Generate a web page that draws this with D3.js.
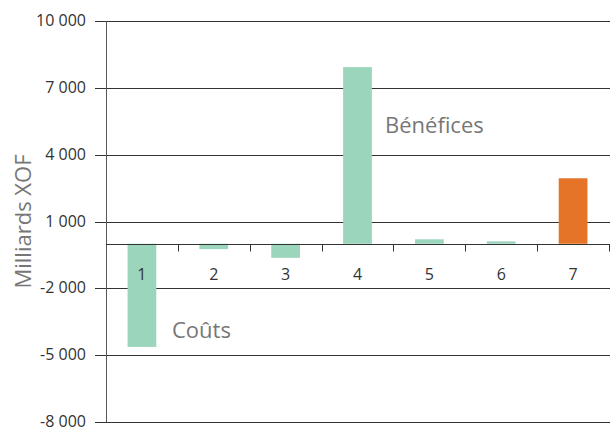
<!DOCTYPE html>
<html>
<head>
<meta charset="utf-8">
<script src="https://cdn.jsdelivr.net/npm/d3@7"></script>
<style>
body { margin: 0; background: #fff; }
text { font-family: "Open Sans", sans-serif; }
</style>
</head>
<body>
<div id="chart"></div>
<script>
// données
var categories = ["1", "2", "3", "4", "5", "6", "7"];
var values = [-4630, -240, -630, 7930, 200, 110, 2940];
var barColors = ["#9AD5BC", "#9AD5BC", "#9AD5BC", "#9AD5BC", "#9AD5BC", "#9AD5BC", "#E57428"];
var yTicks = [-8000, -5000, -2000, 1000, 4000, 7000, 10000];

var width = 614, height = 433;
var mLeft = 106, mRight = 609, mTop = 21, mBottom = 422;

var svg = d3.select("#chart").append("svg")
  .attr("width", width)
  .attr("height", height);

var x = d3.scaleBand()
  .domain(categories)
  .range([mLeft, mRight])
  .paddingInner(0.6)
  .paddingOuter(0.3);

var y = d3.scaleLinear()
  .domain([-8000, 10000])
  .range([mBottom, mTop]);

var fr = d3.formatLocale({decimal: ",", thousands: "\u00a0", grouping: [3], currency: ["", ""], minus: "-"});
var fmt = fr.format(",");

// lignes de grille
svg.selectAll(".grid").data(yTicks).enter()
  .append("line")
  .attr("x1", mLeft - 11)
  .attr("x2", mRight + 1)
  .attr("y1", function(d) { return Math.round(y(d)) + 0.5; })
  .attr("y2", function(d) { return Math.round(y(d)) + 0.5; })
  .attr("stroke", "#333")
  .attr("stroke-width", 1);

svg.selectAll(".ylab").data(yTicks).enter()
  .append("text")
  .attr("x", mLeft - 20)
  .attr("y", function(d) { return y(d) + 5; })
  .attr("text-anchor", "end")
  .attr("font-size", "16px")
  .attr("fill", "#333")
  .text(function(d) { return fmt(d); });

// barres
svg.selectAll(".bar").data(values).enter()
  .append("rect")
  .attr("x", function(d, i) { return x(categories[i]); })
  .attr("width", x.bandwidth())
  .attr("y", function(d) { return y(Math.max(0, d)); })
  .attr("height", function(d) { return Math.abs(y(d) - y(0)); })
  .attr("fill", function(d, i) { return barColors[i]; });

// axe vertical
svg.append("line")
  .attr("x1", mLeft + 0.5).attr("x2", mLeft + 0.5)
  .attr("y1", mTop).attr("y2", mBottom)
  .attr("stroke", "#555");

// axe des x sur zéro
var y0 = Math.round(y(0)) + 0.5;
svg.append("line")
  .attr("x1", mLeft).attr("x2", mRight + 1)
  .attr("y1", y0).attr("y2", y0)
  .attr("stroke", "#333");

var step = x.step();
svg.selectAll(".xtick").data(categories).enter()
  .append("line")
  .attr("x1", function(d) { return Math.round(x(d) - step * 0.3 + step) + 0.5; })
  .attr("x2", function(d) { return Math.round(x(d) - step * 0.3 + step) + 0.5; })
  .attr("y1", y0).attr("y2", y0 + 7)
  .attr("stroke", "#333");

svg.selectAll(".xlab").data(categories).enter()
  .append("text")
  .attr("x", function(d) { return x(d) + x.bandwidth() / 2; })
  .attr("y", y0 + 35)
  .attr("text-anchor", "middle")
  .attr("font-size", "16px")
  .attr("fill", "#333")
  .text(function(d) { return d; });

// titre de l'axe
svg.append("text")
  .attr("transform", "translate(31," + ((mTop + mBottom) / 2) + ") rotate(-90)")
  .attr("text-anchor", "middle")
  .attr("font-size", "22px")
  .attr("fill", "#777")
  .text("Milliards XOF");

// annotations
svg.append("text")
  .attr("x", 385).attr("y", 133)
  .attr("font-size", "22px")
  .attr("fill", "#777")
  .text("Bénéfices");

svg.append("text")
  .attr("x", 172).attr("y", 338)
  .attr("font-size", "22px")
  .attr("fill", "#777")
  .text("Coûts");
</script>
</body>
</html>
